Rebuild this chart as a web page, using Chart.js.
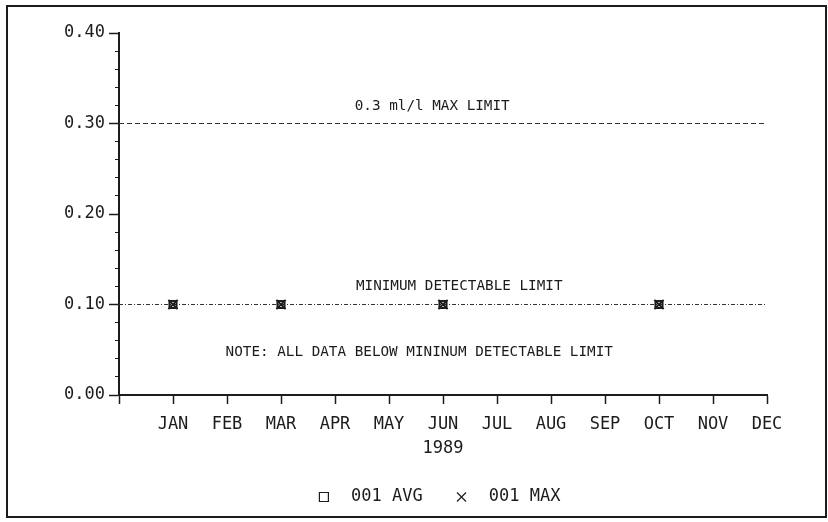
<!DOCTYPE html>
<html>
<head>
<meta charset="utf-8">
<script src="https://cdn.jsdelivr.net/npm/chart.js@4.4.0/dist/chart.umd.min.js"></script>
<style>
    html, body { margin: 0; padding: 0; background: #fff; }
    #wrap { width: 828px; height: 522px; }
</style>
</head>
<body>
<div id="wrap"><canvas id="chart" width="828" height="522"></canvas></div>
<script>
// Monthly sampling, 1989
const months = ['JAN', 'FEB', 'MAR', 'APR', 'MAY', 'JUN', 'JUL', 'AUG', 'SEP', 'OCT', 'NOV', 'DEC'];
const sampleMonths = [1, 3, 6, 10];
const avgValues = [0.10, 0.10, 0.10, 0.10];
const maxValues = [0.10, 0.10, 0.10, 0.10];
const seriesNames = ['001 AVG', '001 MAX'];

// Limits (ml/l)
const maxLimit = 0.3;
const detectLimit = 0.1;

const yearLabel = '1989';
const maxLimitLabel = '0.3 ml/l MAX LIMIT';
const detectLimitLabel = 'MINIMUM DETECTABLE LIMIT';
const noteLabel = 'NOTE: ALL DATA BELOW MININUM DETECTABLE LIMIT';

const ink = '#1c1c1c';
const mono = '"DejaVu Sans Mono", monospace';

function toPoints(xs, ys) {
    return xs.map((x, i) => ({ x: x, y: ys[i] }));
}

function limitLine(value) {
    return [{ x: 0, y: value }, { x: months.length, y: value }];
}

// Outer frame around the whole plot
const framePlugin = {
    id: 'frame',
    beforeDraw(chart) {
        const ctx = chart.ctx;
        ctx.save();
        ctx.strokeStyle = ink;
        ctx.lineWidth = 2;
        ctx.strokeRect(7, 6, 819, 511);
        ctx.restore();
    }
};

// Captions that sit on the limit lines
const limitTextPlugin = {
    id: 'limitText',
    afterDatasetsDraw(chart) {
        const { ctx, scales: { x, y } } = chart;
        ctx.save();
        ctx.font = '14.3px ' + mono;
        ctx.fillStyle = ink;
        ctx.textAlign = 'center';
        ctx.textBaseline = 'middle';
        ctx.fillText(maxLimitLabel, x.getPixelForValue(5.8), y.getPixelForValue(maxLimit) - 17);
        ctx.fillText(detectLimitLabel, x.getPixelForValue(6.3), y.getPixelForValue(detectLimit) - 18);
        ctx.fillText(noteLabel, x.getPixelForValue(5.56), y.getPixelForValue(detectLimit) + 48);
        ctx.restore();
    }
};

const datasets = [
    {
        label: seriesNames[0],
        data: toPoints(sampleMonths, avgValues),
        showLine: false,
        pointStyle: 'rect',
        pointRadius: 5,
        pointBorderWidth: 2,
        pointBorderColor: ink,
        pointBackgroundColor: 'rgba(0,0,0,0)',
        borderColor: ink,
        backgroundColor: 'rgba(0,0,0,0)',
    },
    {
        label: seriesNames[1],
        data: toPoints(sampleMonths, maxValues),
        showLine: false,
        pointStyle: 'crossRot',
        pointRadius: 6.5,
        pointBorderWidth: 2,
        pointBorderColor: ink,
        borderColor: ink,
        backgroundColor: 'rgba(0,0,0,0)',
    },
    {
        label: 'max limit',
        data: limitLine(maxLimit),
        borderColor: '#333',
        borderWidth: 1,
        borderDash: [5, 3],
        pointRadius: 0,
    },
    {
        label: 'detect limit',
        data: limitLine(detectLimit),
        borderColor: '#333',
        borderWidth: 1,
        borderDash: [4, 2, 1, 2],
        pointRadius: 0,
    },
];

const ctx = document.getElementById('chart');

const chart = new Chart(ctx, {
    type: 'line',
    data: { datasets: datasets },
    options: {
        responsive: false,
        animation: false,
        devicePixelRatio: 1,
        layout: {
            padding: { top: 33, right: 61, bottom: 6.5, left: 0 }
        },
        plugins: {
            tooltip: { enabled: false },
            legend: {
                position: 'bottom',
                fullSize: false,
                labels: {
                    usePointStyle: true,
                    boxWidth: 17,
                    boxHeight: 9,
                    padding: 20,
                    color: ink,
                    font: { family: mono, size: 17 },
                    filter: (item) => item.datasetIndex < 2,
                    generateLabels(chart) {
                        const items = Chart.defaults.plugins.legend.labels.generateLabels(chart);
                        return items.map((item) => ({ ...item, text: ' ' + item.text + ' ', lineWidth: 1.2 }));
                    }
                }
            }
        },
        scales: {
            x: {
                type: 'linear',
                min: 0,
                max: months.length,
                afterFit(scale) { scale.height = 73.5; },
                border: { color: ink, width: 2 },
                grid: {
                    drawOnChartArea: false,
                    tickLength: 9,
                    tickColor: ink,
                    tickWidth: 1.5,
                },
                ticks: {
                    stepSize: 1,
                    autoSkip: false,
                    maxRotation: 0,
                    padding: 10,
                    color: ink,
                    font: { family: mono, size: 17 },
                    callback: (v) => months[v - 1] || '',
                },
                title: {
                    display: true,
                    text: yearLabel,
                    color: ink,
                    font: { family: mono, size: 17 },
                    padding: { top: 0, bottom: 9.3 },
                }
            },
            y: {
                position: 'left',
                weight: 1,
                min: 0,
                max: 0.4,
                afterFit(scale) { scale.width = 119; },
                border: { color: ink, width: 2 },
                grid: {
                    drawOnChartArea: false,
                    tickLength: 10,
                    tickColor: ink,
                    tickWidth: 1.5,
                },
                ticks: {
                    stepSize: 0.1,
                    padding: 4,
                    color: ink,
                    font: { family: mono, size: 17 },
                    callback: (v) => v.toFixed(2),
                }
            },
            // short minor ticks every 0.02
            yMinor: {
                position: 'left',
                weight: 0,
                min: 0,
                max: 0.4,
                afterFit(scale) { scale.width = 0; },
                border: { display: false },
                grid: {
                    drawOnChartArea: false,
                    tickLength: 4,
                    tickColor: ink,
                    tickWidth: 1,
                },
                ticks: {
                    stepSize: 0.02,
                    display: false,
                }
            }
        }
    },
    plugins: [framePlugin, limitTextPlugin]
});
</script>
</body>
</html>
